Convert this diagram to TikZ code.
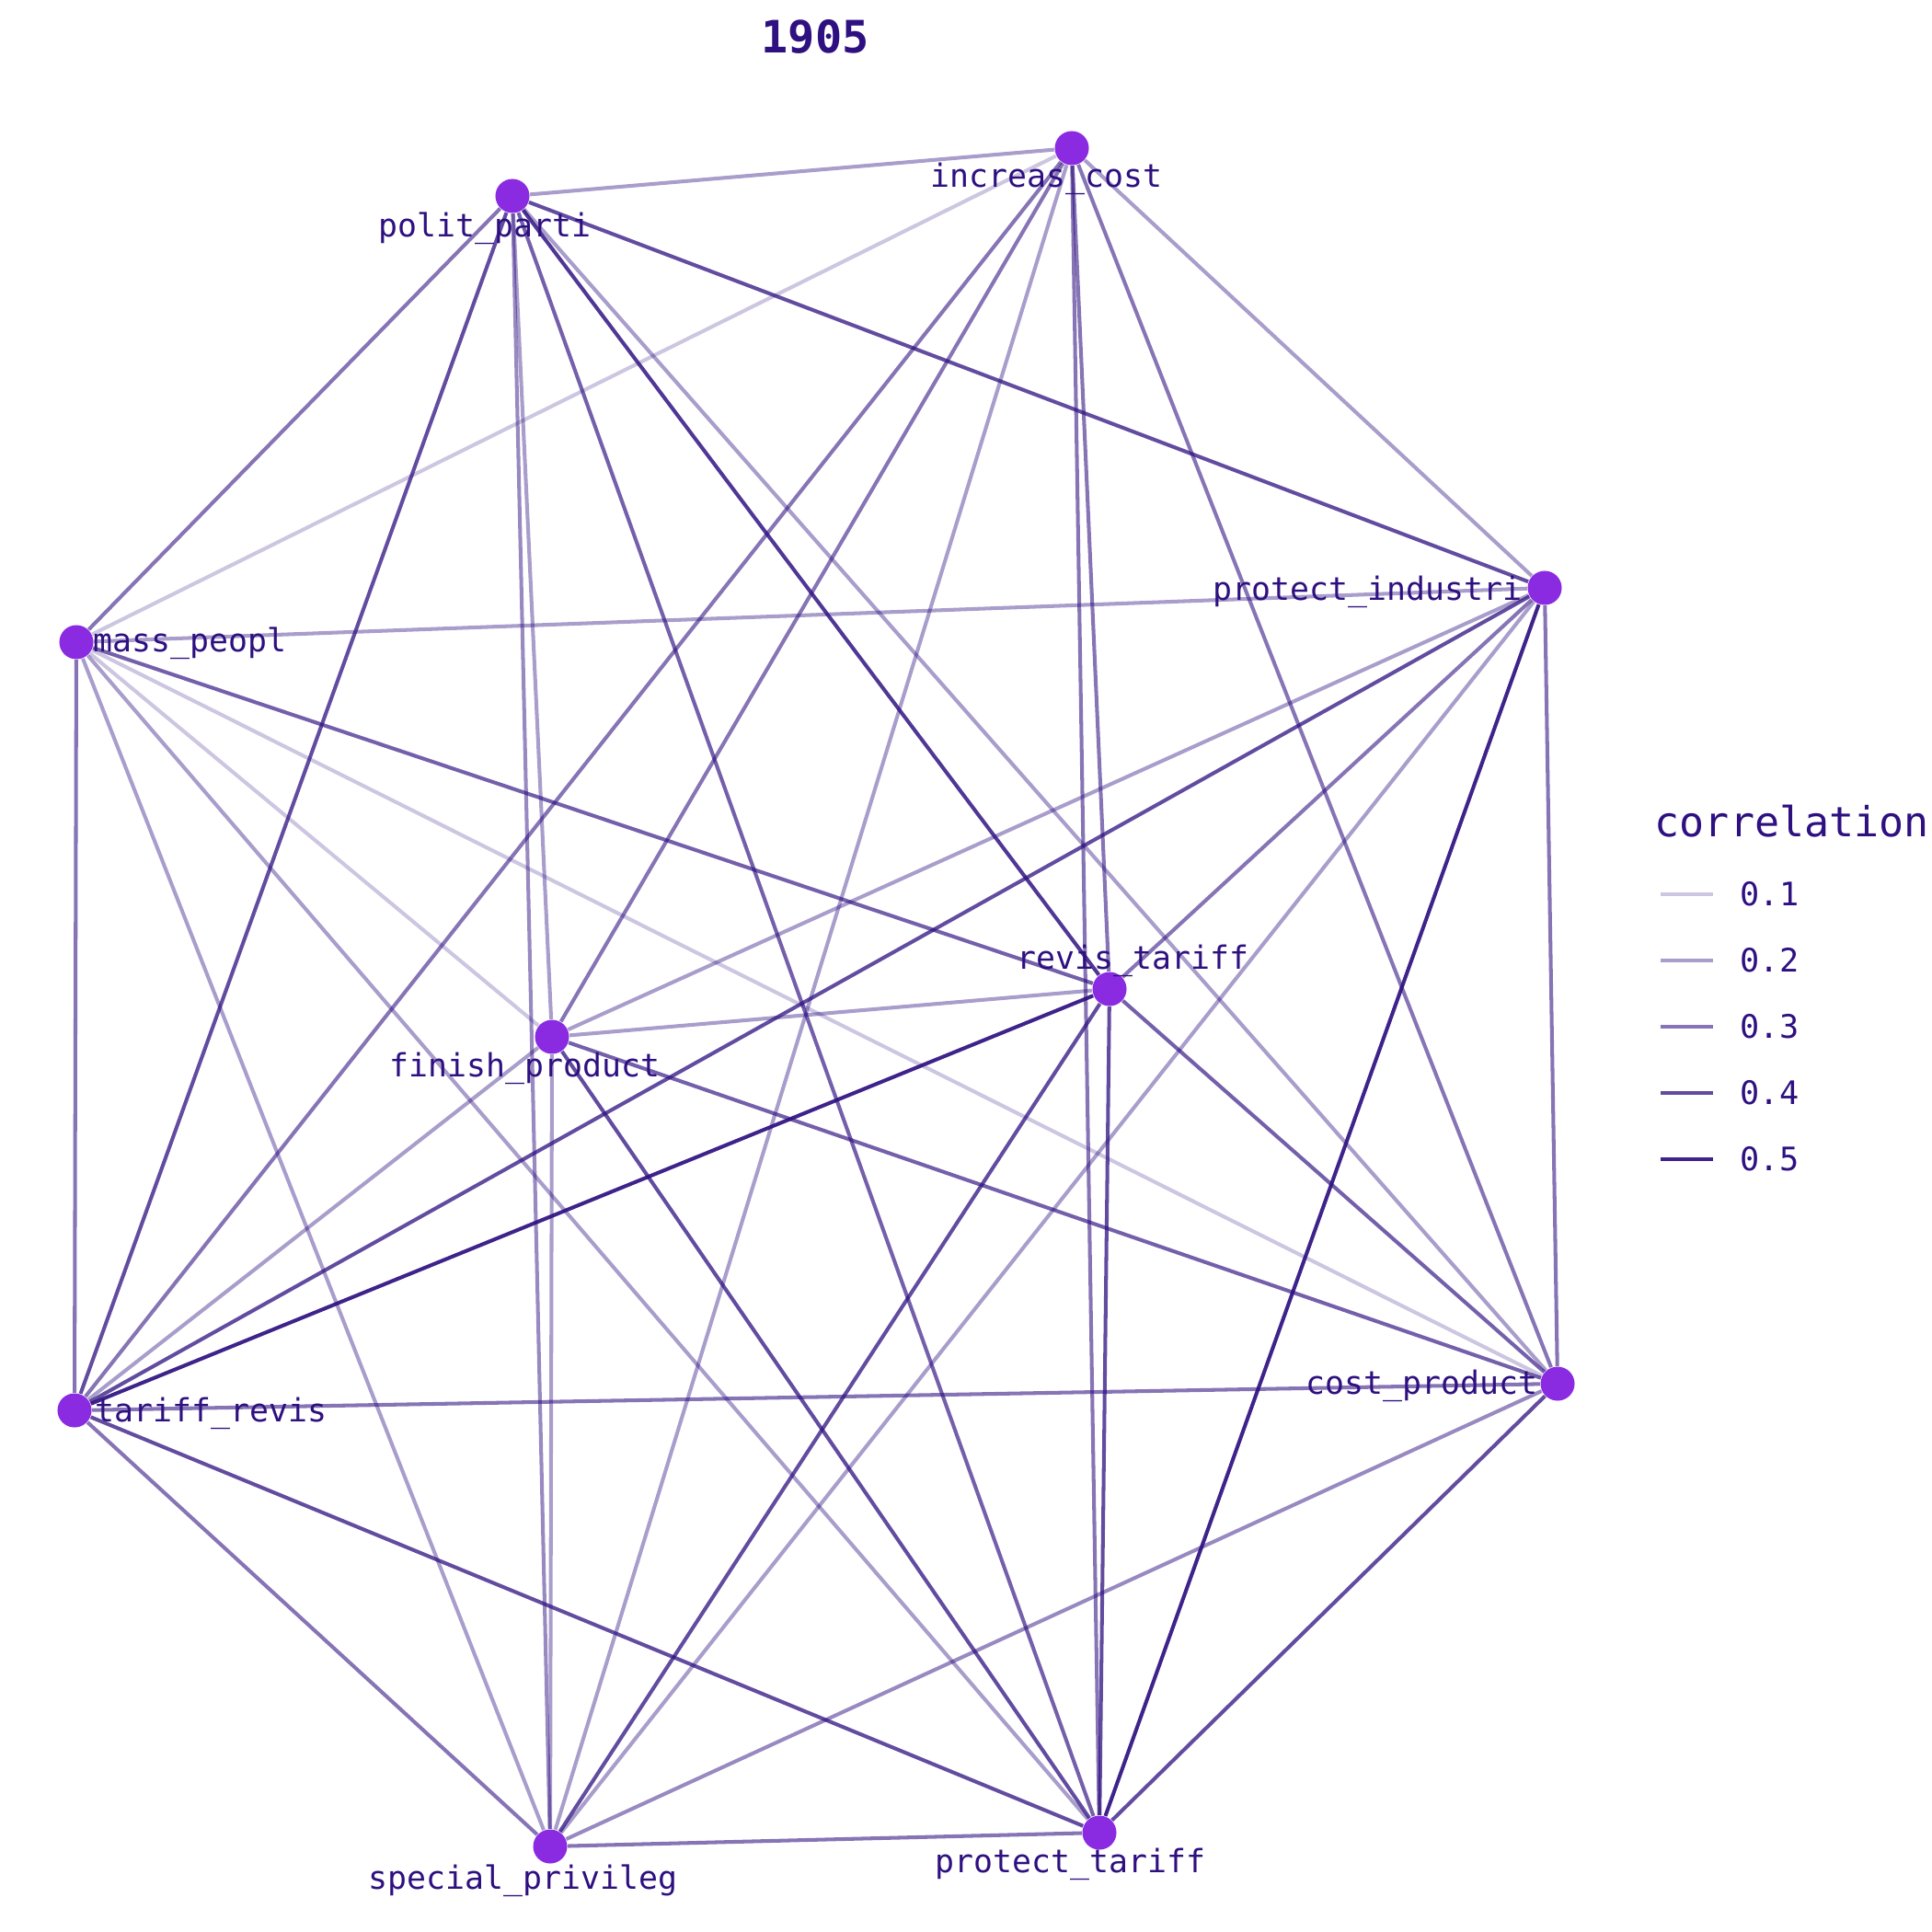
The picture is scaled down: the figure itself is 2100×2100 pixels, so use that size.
\documentclass[tikz,border=0pt]{standalone}
\usepackage{fontspec}
\setmonofont{DejaVu Sans Mono}
\definecolor{txt}{RGB}{46,16,128}
\definecolor{edgec}{RGB}{46,16,128}
\definecolor{nodec}{RGB}{138,43,226}
\begin{document}
\begin{tikzpicture}[x=0.01cm,y=-0.01cm,
  vtx/.style={circle,fill=nodec,inner sep=0pt,minimum size=0.37cm},
  lbl/.style={anchor=base west,inner sep=0pt,text=txt,font=\ttfamily\fontsize{9.9}{12}\selectfont},
  legtxt/.style={anchor=west,inner sep=0pt,text=txt,font=\ttfamily\fontsize{10}{12}\selectfont},
  ed/.style={draw=edgec,line width=1.15pt,/utils/exec={\pgfmathsetmacro\myop{0.07+1.7*#1}},draw opacity=\myop},
]
\useasboundingbox (0,0) rectangle (2100,2100);
% vertices
\node[vtx] (ic) at (1165,161) {};
\node[vtx] (pp) at (557,213) {};
\node[vtx] (mp) at (83,698) {};
\node[vtx] (pi) at (1679,639) {};
\node[vtx] (rt) at (1206,1075) {};
\node[vtx] (fp) at (600,1127) {};
\node[vtx] (cp) at (1693,1504) {};
\node[vtx] (tr) at (81,1533) {};
\node[vtx] (sp) at (598,2007) {};
\node[vtx] (pt) at (1195,1992) {};
% edges
\draw[ed=0.2] (ic) -- (pp);
\draw[ed=0.1] (ic) -- (mp);
\draw[ed=0.2] (ic) -- (pi);
\draw[ed=0.3] (ic) -- (tr);
\draw[ed=0.3] (ic) -- (fp);
\draw[ed=0.2] (ic) -- (sp);
\draw[ed=0.3] (ic) -- (rt);
\draw[ed=0.3] (ic) -- (pt);
\draw[ed=0.3] (ic) -- (cp);
\draw[ed=0.3] (pp) -- (mp);
\draw[ed=0.4] (pp) -- (tr);
\draw[ed=0.2] (pp) -- (fp);
\draw[ed=0.25] (pp) -- (sp);
\draw[ed=0.4] (pp) -- (pi);
\draw[ed=0.45] (pp) -- (rt);
\draw[ed=0.2] (pp) -- (cp);
\draw[ed=0.35] (pp) -- (pt);
\draw[ed=0.2] (mp) -- (pi);
\draw[ed=0.3] (mp) -- (tr);
\draw[ed=0.2] (mp) -- (sp);
\draw[ed=0.2] (mp) -- (pt);
\draw[ed=0.1] (mp) -- (fp);
\draw[ed=0.1] (mp) -- (cp);
\draw[ed=0.35] (mp) -- (rt);
\draw[ed=0.2] (pi) -- (fp);
\draw[ed=0.4] (pi) -- (tr);
\draw[ed=0.3] (pi) -- (rt);
\draw[ed=0.2] (pi) -- (sp);
\draw[ed=0.5] (pi) -- (pt);
\draw[ed=0.3] (pi) -- (cp);
\draw[ed=0.2] (rt) -- (fp);
\draw[ed=0.5] (rt) -- (tr);
\draw[ed=0.4] (rt) -- (sp);
\draw[ed=0.4] (rt) -- (pt);
\draw[ed=0.35] (rt) -- (cp);
\draw[ed=0.2] (fp) -- (tr);
\draw[ed=0.35] (fp) -- (cp);
\draw[ed=0.4] (fp) -- (pt);
\draw[ed=0.2] (fp) -- (sp);
\draw[ed=0.3] (cp) -- (tr);
\draw[ed=0.25] (cp) -- (sp);
\draw[ed=0.4] (cp) -- (pt);
\draw[ed=0.3] (tr) -- (sp);
\draw[ed=0.4] (tr) -- (pt);
\draw[ed=0.3] (sp) -- (pt);
% labels
\node[lbl] (lic) at (1011,203) {increas\_cost};
\node[lbl] (lpp) at (411,258) {polit\_parti};
\node[lbl] (lmp) at (101,708) {mass\_peopl};
\node[lbl] (lpi) at (1318,652) {protect\_industri};
\node[lbl] (lrt) at (1105,1053) {revis\_tariff};
\node[lbl] (lfp) at (423,1170) {finish\_product};
\node[lbl] (lcp) at (1419,1515) {cost\_product};
\node[lbl] (ltr) at (103,1545) {tariff\_revis};
\node[lbl] (lsp) at (400,2053) {special\_privileg};
\node[lbl] (lpt) at (1016,2035) {protect\_tariff};
% title
\node[anchor=base,inner sep=0pt,text=txt,font=\ttfamily\bfseries\fontsize{13.8}{16}\selectfont] (title) at (886,58) {1905};
% legend
\node[anchor=base west,inner sep=0pt,text=txt,font=\ttfamily\fontsize{12.8}{15}\selectfont] (legtitle) at (1798,909) {correlation};
\foreach \v/\y in {0.1/972,0.2/1044,0.3/1116,0.4/1188,0.5/1260}{
  \coordinate (la\y) at (1805,\y);
  \coordinate (lb\y) at (1862,\y);
  \draw[ed=\v] (la\y) -- (lb\y);
  \node[legtxt] (lt\y) at (1891,\y) {\v};
}
\end{tikzpicture}
\end{document}
